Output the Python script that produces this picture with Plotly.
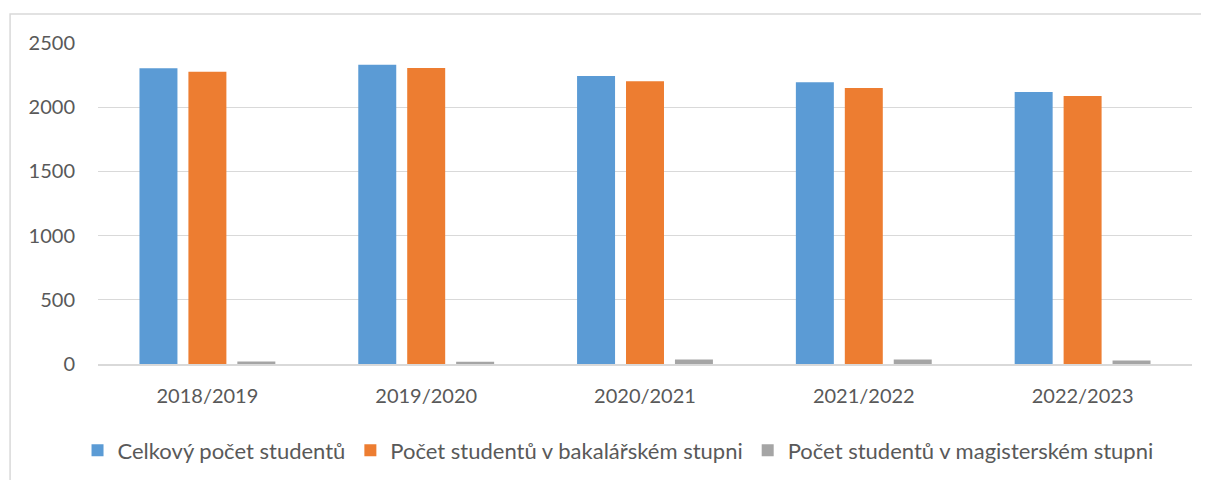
import plotly.graph_objects as go

categories = ["2018/2019", "2019/2020", "2020/2021", "2021/2022", "2022/2023"]
celkovy = [2303, 2331, 2243, 2194, 2119]
bakalarsky = [2277, 2305, 2202, 2150, 2088]
magistersky = [20, 18, 35, 35, 27]

series_names = [
    "Celkový počet studentů",
    "Počet studentů v bakalářském stupni",
    "Počet studentů v magisterském stupni",
]
colors = ["#5b9bd5", "#ed7d31", "#a5a5a5"]

fig = go.Figure()
for name, vals, col in zip(series_names, [celkovy, bakalarsky, magistersky], colors):
    fig.add_trace(go.Bar(x=categories, y=vals, name=name, marker=dict(color=col, line=dict(width=0))))

# page body has an 8px default margin; figure is sized/offset to compensate
OFF = 8
W, H = 1209 - OFF, 480 - OFF
pl, pr, pt, pb = 97.5 - OFF, 1192.5 - OFF, 43 - OFF, 364.5 - OFF
pw, ph = pr - pl, pb - pt

font_family = "Lato, 'Open Sans', sans-serif"
fig.update_layout(
    width=W, height=H,
    margin=dict(l=pl, r=W - pr, t=pt, b=H - pb, autoexpand=False),
    paper_bgcolor="white", plot_bgcolor="white",
    barmode="group", bargap=0.329, bargroupgap=0.224,
    font=dict(family=font_family, size=20, color="#595959"),
    showlegend=True,
    legend=dict(orientation="h", x=(618 - 97.5) / pw, xanchor="center",
                y=(364.5 - 451) / ph, yanchor="middle",
                font=dict(size=22, color="#595959"), traceorder="normal"),
    xaxis=dict(showline=True, linecolor="#d9d9d9", linewidth=1.5, ticks="",
               showgrid=False, ticklabelstandoff=13, tickfont=dict(size=20)),
    yaxis=dict(range=[0, 2500], dtick=500, showgrid=True, gridcolor="#d9d9d9",
               gridwidth=1, zeroline=False, showline=False, ticks="",
               ticklabelstandoff=22, tickfont=dict(size=20)),
    shapes=[dict(type="rect", xref="paper", yref="paper",
                 x0=(9.5 - 97.5) / pw, x1=1.2, y0=-0.5, y1=1 + 29 / ph,
                 line=dict(color="#d9d9d9", width=1.5), layer="below")],
)

fig.write_html("out.html")
